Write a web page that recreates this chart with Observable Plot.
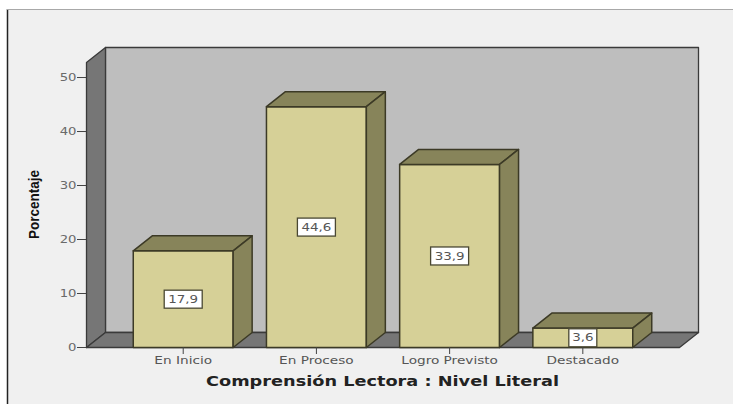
<!DOCTYPE html>
<html>
<head>
<meta charset="utf-8">
<script src="https://cdn.jsdelivr.net/npm/d3@7"></script>
<script src="https://cdn.jsdelivr.net/npm/@observablehq/plot@0.6"></script>
<style>
  html, body { margin: 0; padding: 0; background: #fff; }
  #chart { width: 733px; height: 404px; overflow: hidden; }
  svg { display: block; }
</style>
</head>
<body>
<div id="chart"></div>
<script>
const categories = ["En Inicio", "En Proceso", "Logro Previsto", "Destacado"];
const percentages = [17.9, 44.6, 33.9, 3.6];
const valueLabels = ["17,9", "44,6", "33,9", "3,6"];
const yTicks = [0, 10, 20, 30, 40, 50];

// Oblique depth of the pseudo-3D box, in data units
const depthX = 0.1425;
const depthY = 2.78;
const barHalf = 0.375;
const xMin = -0.726, xMax = 3.726, yFrontTop = 52.78;

const colors = {
  panel: "#f0f0f0", wall: "#bebebe", side: "#767676", floor: "#767676",
  barFront: "#d6d097", barDark: "#87845a", edge: "#3c3a26", frame: "#3a3a3a"
};

// Each face is a closed polygon in data coordinates
function face(id, fill, corners) {
  return corners.concat([corners[0]]).map(([x, y]) => ({id, fill, x, y}));
}
const shell = [
  ...face("wall", colors.wall, [[xMin + depthX, depthY], [xMax + depthX, depthY], [xMax + depthX, yFrontTop + depthY], [xMin + depthX, yFrontTop + depthY]]),
  ...face("side", colors.side, [[xMin, 0], [xMin + depthX, depthY], [xMin + depthX, yFrontTop + depthY], [xMin, yFrontTop]]),
  ...face("floor", colors.floor, [[xMin, 0], [xMax, 0], [xMax + depthX, depthY], [xMin + depthX, depthY]])
];
const bars = percentages.flatMap((v, i) => {
  const l = i - barHalf, r = i + barHalf;
  return [
    ...face("front" + i, colors.barFront, [[l, 0], [r, 0], [r, v], [l, v]]),
    ...face("top" + i, colors.barDark, [[l, v], [r, v], [r + depthX, v + depthY], [l + depthX, v + depthY]]),
    ...face("right" + i, colors.barDark, [[r, 0], [r + depthX, depthY], [r + depthX, v + depthY], [r, v]])
  ];
});
const labels = percentages.map((v, i) => ({i, v, text: valueLabels[i]}));

const chart = Plot.plot({
  width: 733,
  height: 404,
  marginTop: 47,
  marginBottom: 57,
  marginLeft: 86,
  marginRight: 35,
  style: {background: "transparent", overflow: "visible"},
  x: {type: "linear", domain: [xMin, xMax + depthX], axis: null},
  y: {domain: [0, yFrontTop + depthY], axis: null},
  marks: [
    // page background and outer border of the chart area
    () => {
      const g = d3.create("svg:g");
      g.append("rect").attr("x", 7).attr("y", 9).attr("width", 726).attr("height", 395).attr("fill", colors.panel);
      g.append("line").attr("x1", 7.5).attr("x2", 7.5).attr("y1", 9).attr("y2", 404).attr("stroke", "#222").attr("stroke-width", 1.5);
      g.append("line").attr("x1", 7).attr("x2", 733).attr("y1", 9.5).attr("y2", 9.5).attr("stroke", "#a8a8a8");
      return g.node();
    },
    Plot.line(shell, {x: "x", y: "y", z: "id", fill: "fill", stroke: colors.frame, strokeWidth: 1.3, curve: "linear", strokeLinejoin: "round"}),
    Plot.line(bars, {x: "x", y: "y", z: "id", fill: "fill", stroke: colors.edge, strokeWidth: 1.5, curve: "linear", strokeLinejoin: "round"}),
    // value tags centred on each bar's front face
    Plot.text(labels, {
      x: "i", y: d => d.v / 2, text: "text", fontSize: 11, fontFamily: "DejaVu Sans", fill: "#555",
      render(index, scales, values, dimensions, context, next) {
        const g = next(index, scales, values, dimensions, context);
        g.querySelectorAll("text").forEach(t => {
          const w = t.textContent.length > 3 ? 38 : 28, h = 18;
          const m = t.getAttribute("transform").match(/translate\(([-\d.]+)[,\s]+([-\d.]+)/);
          const r = document.createElementNS("http://www.w3.org/2000/svg", "rect");
          r.setAttribute("x", +m[1] - w / 2);
          r.setAttribute("y", +m[2] - h / 2);
          r.setAttribute("width", w);
          r.setAttribute("height", h);
          r.setAttribute("fill", "#fff");
          r.setAttribute("stroke", "#4a4833");
          r.setAttribute("stroke-width", 1.3);
          g.insertBefore(r, t);
          t.classList.add("value-tag");
        });
        return g;
      }
    }),
    Plot.axisY({
      anchor: "left", ticks: yTicks, tickSize: 9, tickPadding: 1, tickFormat: d => d,
      fontSize: 11, fontFamily: "DejaVu Sans", color: "#6a6a6a", stroke: "#444", label: null
    }),
    Plot.axisX({
      anchor: "bottom", ticks: [0, 1, 2, 3], tickSize: 7, tickPadding: 2,
      tickFormat: i => categories[i],
      fontSize: 11, fontFamily: "DejaVu Sans", color: "#555", stroke: "#444", label: null
    }),
    // axis titles
    () => {
      const g = d3.create("svg:g");
      g.append("text").attr("transform", "translate(39,204.5) rotate(-90)")
        .attr("text-anchor", "middle").attr("font-family", "Liberation Sans").attr("font-weight", "bold")
        .attr("font-size", 15).attr("textLength", 69).attr("lengthAdjust", "spacingAndGlyphs")
        .attr("fill", "#111").text("Porcentaje");
      g.append("text").attr("x", 382.5).attr("y", 386)
        .attr("text-anchor", "middle").attr("font-family", "DejaVu Sans").attr("font-weight", "bold")
        .attr("font-size", 14).attr("textLength", 353).attr("lengthAdjust", "spacingAndGlyphs")
        .attr("fill", "#222").text("Comprensión Lectora : Nivel Literal");
      return g.node();
    }
  ]
});
document.getElementById("chart").appendChild(chart);

// The chart's lettering is set wide; widen the measured labels once they are in the document
function widen(selector, factor) {
  chart.querySelectorAll(selector).forEach(t => {
    t.setAttribute("textLength", t.getComputedTextLength() * factor);
    t.setAttribute("lengthAdjust", "spacingAndGlyphs");
  });
}
widen('[aria-label="x-axis tick label"] text', 1.24);
widen('[aria-label="y-axis tick label"] text', 1.2);
widen('text.value-tag', 1.22);
</script>
</body>
</html>
